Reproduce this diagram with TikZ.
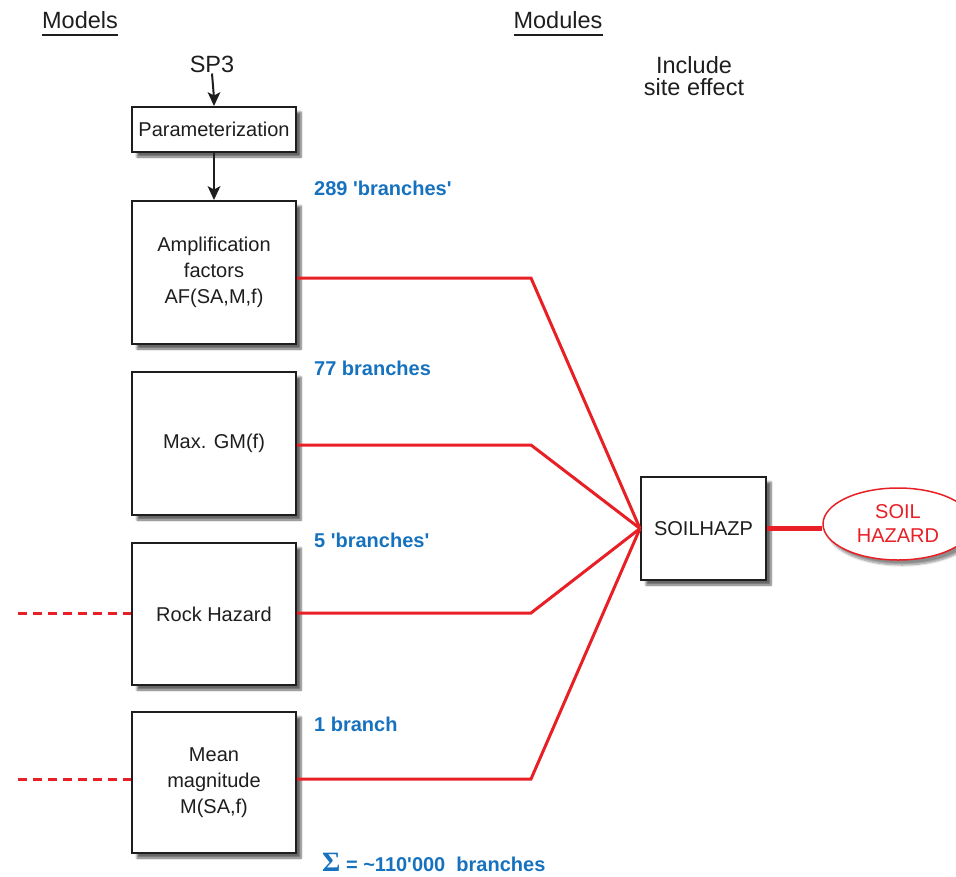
\documentclass[tikz,border=0pt]{standalone}
\usepackage{fontspec}
\setmainfont{Liberation Sans}
\newfontfamily\serifsym{Liberation Serif}
\usetikzlibrary{shapes.geometric,shadows.blur}
\definecolor{lred}{RGB}{232,32,38}
\definecolor{lblue}{RGB}{22,114,190}
\definecolor{ink}{RGB}{30,30,30}
\tikzset{
  mbox/.style={draw=ink, line width=2pt, fill=white, minimum width=164pt, align=center,
    font=\fontsize{20}{26}\selectfont, text=ink, inner sep=0pt,
    blur shadow={shadow xshift=5pt, shadow yshift=-5pt, shadow blur steps=6, shadow opacity=60}},
  head/.style={font=\fontsize{23.5}{26}\selectfont, text=ink},
  blab/.style={font=\fontsize{20}{24}\selectfont\bfseries, text=lblue, anchor=west, inner sep=0pt},
  rline/.style={draw=lred, line width=3pt},
  kline/.style={draw=ink, line width=2pt},
  ktip/.style={fill=ink},
}
\begin{document}
\begin{tikzpicture}[x=1pt,y=-1pt]
\useasboundingbox (0,0) rectangle (956,876);
\clip (0,0) rectangle (956,876);
% headers
\node[head] (models) at (80,20) {Models};
\draw[ink, line width=1.5pt] (42,35) -- (118,35);
\node[head] (modules) at (558,20) {Modules};
\draw[ink, line width=1.5pt] (514,35) -- (603,35);
\node[head, align=center, font=\fontsize{23.5}{22}\selectfont] (incl) at (694,76) {Include\\site effect};
\node[head, inner sep=1pt] (sp3) at (212,64) {SP3};
% boxes
\node[mbox, minimum height=45pt] (par) at (214,129.5) {Parameterization};
\node[mbox, minimum height=143pt] (b1) at (214,272.5) {Amplification\\factors\\AF(SA,M,f)};
\node[mbox, minimum height=143pt] (b2) at (214,443.5) {Max. GM(f)};
\node[mbox, minimum height=142pt] (b3) at (214,614) {Rock Hazard};
\node[mbox, minimum height=141pt] (b4) at (214,782.5) {Mean\\magnitude\\M(SA,f)};
\node[mbox, minimum width=125pt, minimum height=103pt] (soil) at (703.5,528.5) {SOILHAZP};
\node[ellipse, draw=lred, line width=1.5pt, fill=white, minimum width=150pt, minimum height=72pt,
  align=center, text=lred, font=\fontsize{20}{24}\selectfont, inner sep=0pt,
  blur shadow={shadow xshift=4pt, shadow yshift=-5pt, shadow blur steps=8, shadow opacity=45}]
  (haz) at (898,524) {SOIL\\HAZARD};
% arrows
\draw[kline] (sp3.south) -- ([yshift=8pt]par.north);
\fill[ktip] (par.north) -- ++(-6.5,-14) -- ++(6.5,3.5) -- ++(6.5,-3.5) -- cycle;
\draw[kline] (par.south) -- ([yshift=8pt]b1.north);
\fill[ktip] (b1.north) -- ++(-6.5,-14) -- ++(6.5,3.5) -- ++(6.5,-3.5) -- cycle;
% red connectors
\coordinate (j) at (soil.west);
\draw[rline] ([yshift=-5.5pt]b1.east) -- ++(234,0) -- (j);
\draw[rline] ([yshift=-1.5pt]b2.east) -- ++(234,0) -- (j);
\draw[rline] ([yshift=1pt]b3.east) -- ++(234,0) -- (j);
\draw[rline] ([yshift=3.5pt]b4.east) -- ++(234,0) -- (j);
\draw[draw=lred, line width=4.5pt] (soil.east) -- (soil.east -| haz.west);
% dashed inputs
\coordinate (d3) at (18,613);
\coordinate (d4) at (18,779);
\draw[rline, dash pattern=on 9pt off 6pt] (d3) -- (d3 -| b3.west);
\draw[rline, dash pattern=on 9pt off 6pt] (d4) -- (d4 -| b4.west);
% blue labels
\node[blab] (l1) at (314,188) {289 \textquotesingle branches\textquotesingle};
\node[blab] (l2) at (314,368) {77 branches};
\node[blab] (l3) at (314,540) {5 \textquotesingle branches\textquotesingle};
\node[blab] (l4) at (314,724) {1 branch};
\node[blab] (sum) at (322,862) {{\serifsym\fontsize{28}{28}\selectfont Σ} = \textasciitilde 110\textquotesingle 000\ \ branches};
\end{tikzpicture}
\end{document}
